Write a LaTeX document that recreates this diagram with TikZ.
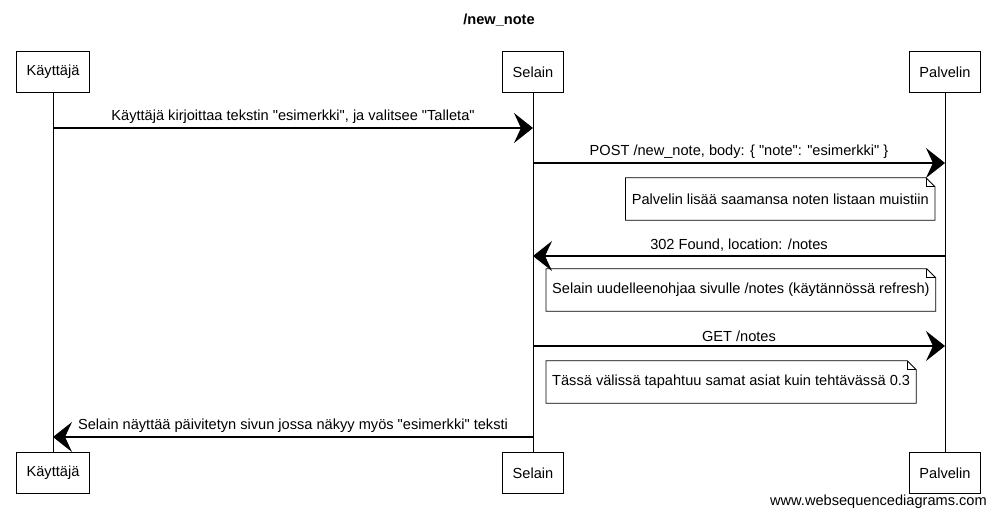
\documentclass[tikz,border=0pt]{standalone}
\usepackage{fontspec}
\setmainfont{Liberation Sans}[Ligatures=TeXOff]
\usetikzlibrary{positioning,arrows.meta,calc}
\tikzset{
    actor/.style={rectangle, draw, line width=0.9pt, fill=white, minimum height=41pt, inner xsep=10pt, font=\fontsize{14.6}{17}\selectfont},
    lifeline/.style={draw, line width=0.9pt},
    msg/.style={-{Stealth[length=19pt, width=30pt, inset=7pt]}, line width=1.1pt},
    msglabel/.style={font=\fontsize{14.6}{17}\selectfont, inner sep=1pt},
    notebox/.style={rectangle, inner xsep=6pt, inner ysep=0pt, minimum height=42pt, font=\fontsize{14.6}{17}\selectfont}
}
% note outline with folded corner
\newcommand{\dogear}[1]{%
  \draw[line width=0.8pt] (#1.north west) -- ([xshift=-9pt]#1.north east) -- ([yshift=-9pt]#1.north east) -- (#1.south east) -- (#1.south west) -- cycle;
  \draw[line width=0.8pt] ([xshift=-9pt]#1.north east) -- ([xshift=-9pt,yshift=-9pt]#1.north east) -- ([yshift=-9pt]#1.north east);
}
\begin{document}
\begin{tikzpicture}[x=1pt, y=-1pt]
\useasboundingbox (0,0) rectangle (997,517);

\node[font=\fontsize{14.6}{17}\selectfont\bfseries] (title) at (499,20) {/new\_note};

% participants
\node[actor] (kayttaja) at (53,72) {Käyttäjä};
\node[actor] (selain) at (533,72) {Selain};
\node[actor] (palvelin) at (945,72) {Palvelin};
\node[actor] (kayttaja-end) at (53,473) {Käyttäjä};
\node[actor] (selain-end) at (533,473) {Selain};
\node[actor] (palvelin-end) at (945,473) {Palvelin};

\draw[lifeline] (kayttaja) -- (kayttaja-end);
\draw[lifeline] (selain) -- (selain-end);
\draw[lifeline] (palvelin) -- (palvelin-end);

% rows
\coordinate (m1) at (0,128);
\coordinate (m2) at (0,163);
\coordinate (n1) at (0,199);
\coordinate (m3) at (0,256);
\coordinate (n2) at (0,290);
\coordinate (m4) at (0,346);
\coordinate (n3) at (0,382);
\coordinate (m5) at (0,437);

\draw[msg] (kayttaja |- m1) -- node[msglabel, above=3pt] {Käyttäjä kirjoittaa tekstin "esimerkki", ja valitsee "Talleta"} (selain |- m1);
\draw[msg] (selain |- m2) -- node[msglabel, above=3pt] {POST /new\_note, body: \{ "note": "esimerkki" \}} (palvelin |- m2);

\node[notebox, anchor=east, xshift=-10pt] (note1) at (palvelin |- n1) {Palvelin lisää saamansa noten listaan muistiin};
\dogear{note1}

\draw[msg] (palvelin |- m3) -- node[msglabel, above=3pt] {302 Found, location: /notes} (selain |- m3);

\node[notebox, anchor=west, xshift=13pt] (note2) at (selain |- n2) {Selain uudelleenohjaa sivulle /notes (käytännössä refresh)};
\dogear{note2}

\draw[msg] (selain |- m4) -- node[msglabel, above=3pt] {GET /notes} (palvelin |- m4);

\node[notebox, anchor=west, xshift=13pt] (note3) at (selain |- n3) {Tässä välissä tapahtuu samat asiat kuin tehtävässä 0.3};
\dogear{note3}

\draw[msg] (selain |- m5) -- node[msglabel, above=3pt] {Selain näyttää päivitetyn sivun jossa näkyy myös "esimerkki" teksti} (kayttaja |- m5);

\node[msglabel, anchor=east] (footer) at (988,502) {www.websequencediagrams.com};
\end{tikzpicture}
\end{document}
